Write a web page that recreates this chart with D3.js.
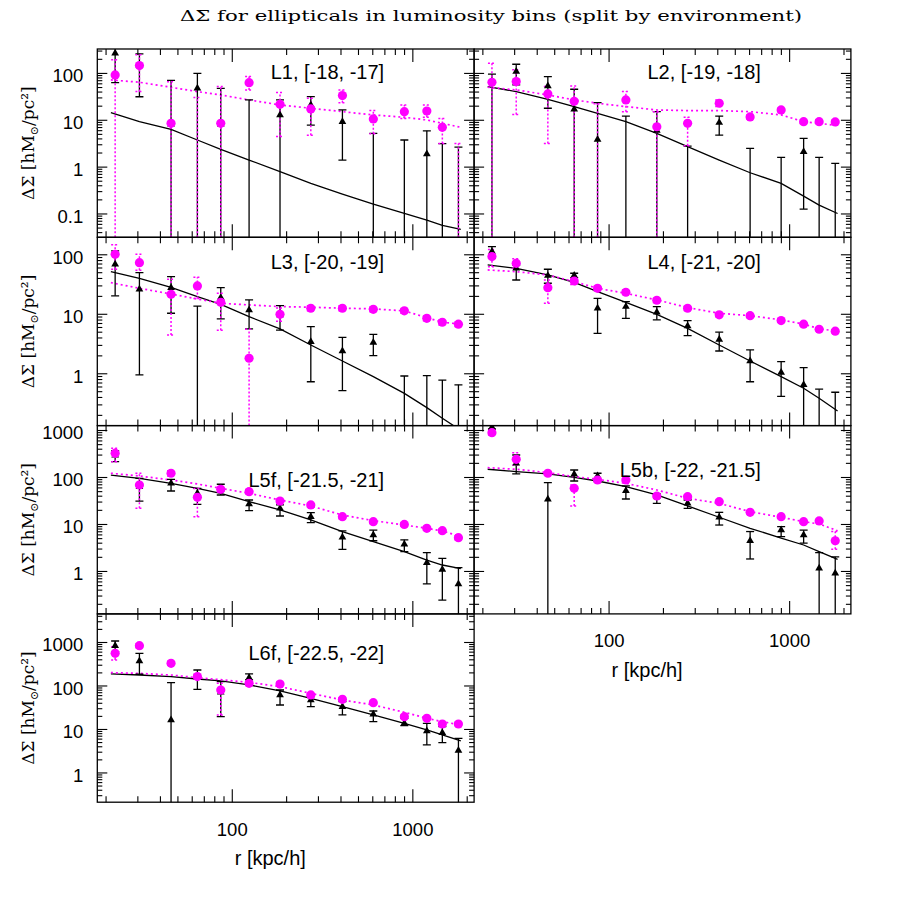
<!DOCTYPE html>
<html><head><meta charset="utf-8">
<script src="https://cdn.jsdelivr.net/npm/d3@7"></script>
<style>body{margin:0;background:#fff}</style>
</head><body>
<svg id="c" width="900" height="900"></svg>
<script>
// ---------- data ----------
const r = [22.6, 30.8, 46.1, 64.5, 86.9, 124.7, 185, 274, 410, 608, 903, 1203, 1466, 1800];
const rFit = [21.4, 30.8, 46.1, 64.5, 86.9, 124.7, 185, 274, 410, 608, 903, 1203, 1466, 1855];

// [value, lower, upper]  (value <= 0 : point off the log axis)
const L1_tri = [[263,62,600],[143,31,255],[8,-60,69],[47,-4,98],[8,-30,47],[-5,-36,26.5],[12.7,-1.1,26.5],[20.7,7.7,31.2],[9.1,1.38,16.2],[-2,-9,5.1],[-1,-6,3.7],[1.86,-2,5.8],[-1,-5,3.1],[-1,-5,2.6]];
const L1_circ = [[90.6,-10,190],[143.6,40,245],[8.4,-50,65],[-10,-50,30],[8.4,-35,51],[62,43.4,83.5],[21.4,4.4,38],[17,4.7,28.8],[32.8,23,43],[10.4,5,15.7],[14.9,10.7,20.7],[15.4,11.3,20.7],[6.9,3.1,10.7],[-1,-5,3.1]];
const L1_fit = [14.2,9.1,6.25,3.70,2.34,1.38,0.78,0.44,0.26,0.159,0.100,0.072,0.056,0.046];
const L1_fitC = [70.8,63.2,49.4,39.9,33.9,26.5,20.7,17.6,14.9,12.7,11.3,9.9,8.4,6.9];

const L2_tri = [[-10,-60,94],[107,55.5,153],[52.7,17.6,83.5],[16.7,-12,44.8],[3.8,-16,23.2],[-3,-18,12],[5.9,-3,14.9],[-2,-7,2.75],[8.7,4.7,12],[-1,-4.5,2.45],[-1,-4,1.58],[2.08,0.124,4.0],[-1,-4,1.58],[-1,-3.3,1.17]];
const L2_circ = [[63,-35,161],[65.3,13,117],[35.6,3.1,51],[24.8,-3,52.7],[-5,-32,22],[26.5,14.9,39.9],[7.1,-1,14.9],[8.4,2.8,11.3],[22.5,19.1,26.5],[11.5,10.4,12.7],[16.2,14.8,17.6],[9.1,8.3,10],[9.1,8.3,10],[9.0,8.2,9.8]];
const L2_fit = [51,39.9,27.4,19.1,13.7,9.1,5.1,2.67,1.38,0.74,0.44,0.235,0.151,0.100];
const L2_fitC = [49.4,43.4,33.9,26.5,22.5,19.1,16.2,15.7,15.7,14.9,12.7,9.1,8.4,7.5];

const L3_tri = [[68,20,114],[25.8,0.94,49.2],[27.5,10.2,42.1],[-3,-20,13.5],[18.7,8.2,27.5],[11.6,5.56,17.1],[9.5,5.3,13.7],[3.4,0.72,6.1],[2.37,0.51,4.0],[3.3,1.98,4.5],[-0.5,-2,0.9],[-0.5,-2,0.91],[-0.5,-2,0.77],[-0.5,-2,0.64]];
const L3_circ = [[100,56,144],[72.4,54,100],[21.3,4.4,38],[29.4,18,41],[15.6,5.3,22.1],[1.79,-1.9,5.5],[9.8,7.5,12.5],[12.4,11.2,13.6],[12.4,11.2,13.6],[11.9,10.8,13],[11.2,10.2,12.2],[8.4,7.6,9.2],[7.2,6.5,7.9],[6.7,6.1,7.3]];
const L3_fit = [51.1,39.5,27.9,19.4,14.4,8.96,5.56,2.99,1.61,0.88,0.46,0.265,0.175,0.11];
const L3_fitC = [33.4,26.8,21.5,17.7,15.0,14.1,13.2,12.9,12.4,12.1,11.2,8.6,7.2,6.7];

const L4_tri = [[111,86,135],[58.2,37,66],[43.8,32.6,56],[44,40.5,48],[12.4,4.7,18.2],[13.2,8.4,16],[10.6,7.9,13.2],[6.25,4.3,7.7],[3.7,2.37,4.9],[1.61,0.72,2.47],[1.03,0.41,1.57],[0.64,-0.1,1.24],[-0.2,-1,0.54],[-0.2,-1,0.48]];
const L4_circ = [[91.4,62,120],[70.6,58,84],[27.5,15,37],[35.6,31,40],[26.8,24.5,29],[23,21,25],[16.9,15.5,18.3],[12.4,11.4,13.4],[9.6,8.9,10.3],[9.3,8.7,9.9],[7.7,7.2,8.2],[6.7,6.3,7.1],[5.5,5.2,5.8],[5.1,4.8,5.4]];
const L4_fit = [66.2,58.2,45,33.8,23.6,15.6,9.8,5.7,2.99,1.61,0.88,0.56,0.38,0.233];
const L4_fitC = [54.5,51.1,45,34.7,26.8,22.1,17.1,12.7,10.2,9.3,7.9,6.7,5.6,5.1];

const L5f_tri = [[290,212,363],[62,30.8,93.7],[73.3,50.4,89],[44.9,26.2,57.4],[55,41.4,70],[26.6,19.2,32.4],[21.5,14.8,25.4],[14.3,10.7,17.4],[5.2,2.89,7.1],[5.8,4.4,7.4],[3.7,2.58,4.6],[1.5,0.53,2.45],[1.08,0.24,1.86],[0.53,-0.1,1.18]];
const L5f_circ = [[319,212,407],[67.6,21.5,120],[120,105,135],[36.9,14.3,57],[54.7,48,61],[48.7,44,54],[30.8,28,33.5],[25.4,23,27.5],[14.3,13,15.5],[11.2,10.2,12.2],[9.8,9,10.6],[8.1,7.4,8.8],[7.2,6.6,7.8],[5.1,4.6,5.6]];
const L5f_fit = [110,93.7,73.3,57.4,44.9,29.9,19.9,12.2,6.9,4.2,2.58,1.71,1.34,1.12];
const L5f_fitC = [120,105,86.3,71,57.4,44.9,32.4,24.2,15.5,11.8,9.5,8.1,7.1,5.4];

const L5b_tri = [[1150,1050,1250],[195,116,294],[33.5,-10,75.7],[114,82.2,141],[105,79.6,120],[51.2,34,64.4],[38.2,27.5,43.5],[27.5,21.5,32.4],[13.9,9.5,17.7],[4.4,1.8,6.9],[7.45,5.4,8.8],[5.8,3.9,7.4],[1.14,-0.2,2.45],[0.89,-0.2,2.0]];
const L5b_circ = [[877,780,980],[238,180,330],[120,110,130],[57.4,24.2,67.6],[86.3,80,93],[86.3,80,93],[39.4,36.5,42.5],[38.2,35.5,41],[29.9,27.8,32],[17.7,16.5,19],[14.3,13.3,15.3],[11.2,10.4,12],[11.6,10.8,12.4],[4.4,2.89,6.9]];
const L5b_fit = [146,130,116,98.4,82.2,62.3,41.4,24.2,13.9,8.1,5.0,3.57,2.58,1.77];
const L5b_fitC = [158,146,124,102,89,73.3,52.9,35.2,27.5,18.3,13.9,11.2,10,7.2];

const L6f_tri = [[824,600,1054],[366,181,549],[16.1,-80,116],[155,81.6,227],[70,19.2,122],[151,134,184],[60.5,35.6,78.8],[46.4,32.6,55.4],[32.6,21,42.5],[21.7,14.7,25.9],[13.5,11.9,17.6],[9.0,4.3,13.5],[8.2,4.85,11.3],[3.2,-0.5,6.1]];
const L6f_circ = [[549,385,781],[824,740,910],[323,290,360],[160,140,180],[78.8,21,112],[112,100,124],[108,98,118],[60.5,55,66],[48.1,44,52],[40.3,37,43.5],[19.2,17.5,21],[17.6,16,19.2],[13,11.8,14.2],[13,11.8,14.2]];
const L6f_fit = [184,174,160,141,127,103,74.8,50.7,32.6,21,13.5,9.5,7.3,5.3];
const L6f_fitC = [197,190,174,151,136,118,94,66,46.4,35.6,24.2,17.6,14.7,12.4];

const panelNames = ["L1, [-18, -17]","L2, [-19, -18]","L3, [-20, -19]","L4, [-21, -20]","L5f, [-21.5, -21]","L5b, [-22, -21.5]","L6f, [-22.5, -22]"];
const xRange = [18, 2198];
const yRanges = [[0.031, 324], [0.132, 193], [0.122, 1241], [0.207, 4426]];
const yTickLabels = [[0.1, 1, 10, 100], [1, 10, 100], [1, 10, 100, 1000], [1, 10, 100, 1000]];
const xTickLabels = [100, 1000];
const titleText = "ΔΣ for ellipticals in luminosity bins (split by environment)";

// ---------- layout ----------
const ROW_TOP = [49, 237.3, 425.6, 613.9], COL_LEFT = [97.3, 474.1], PW = 376.8, PH = 188.3;
const panels = [
  {tri:L1_tri, circ:L1_circ, fit:L1_fit, fitC:L1_fitC, row:0, col:0, labTop:23, xlab:false},
  {tri:L2_tri, circ:L2_circ, fit:L2_fit, fitC:L2_fitC, row:0, col:1, labTop:23, xlab:false},
  {tri:L3_tri, circ:L3_circ, fit:L3_fit, fitC:L3_fitC, row:1, col:0, labTop:25, xlab:false},
  {tri:L4_tri, circ:L4_circ, fit:L4_fit, fitC:L4_fitC, row:1, col:1, labTop:25, xlab:false},
  {tri:L5f_tri, circ:L5f_circ, fit:L5f_fit, fitC:L5f_fitC, row:2, col:0, labTop:54, xlab:false},
  {tri:L5b_tri, circ:L5b_circ, fit:L5b_fit, fitC:L5b_fitC, row:2, col:1, labTop:44, xlab:true},
  {tri:L6f_tri, circ:L6f_circ, fit:L6f_fit, fitC:L6f_fitC, row:3, col:0, labTop:39, xlab:true}
];
const MAG = "#ff00ff";
const SANS = "'Liberation Sans', Arial, Helvetica, sans-serif";
const SERIF = "'DejaVu Serif', 'Liberation Serif', serif";

const svg = d3.select("#c");
const defs = svg.append("defs");

function majors(lo, hi){ const o=[]; for(let k=-3;k<=5;k++){const v=Math.pow(10,k); if(v>=lo*0.999&&v<=hi*1.001) o.push(v);} return o; }
function minors(lo, hi){ const o=[]; for(let k=-3;k<=5;k++) for(let m=2;m<=9;m++){const v=m*Math.pow(10,k); if(v>lo&&v<hi) o.push(v);} return o; }

const x = d3.scaleLog().domain(xRange).range([0, PW]);

panels.forEach((p, i) => {
  const g = svg.append("g").attr("transform", `translate(${COL_LEFT[p.col]},${ROW_TOP[p.row]})`);
  const yr = yRanges[p.row];
  const y = d3.scaleLog().domain(yr).range([PH, 0]);
  const yv = v => v > 0 ? y(v) : PH + 60;

  defs.append("clipPath").attr("id", "cl" + i).append("rect").attr("width", PW).attr("height", PH);
  const plot = g.append("g").attr("clip-path", `url(#cl${i})`);

  const line = d3.line().x(d => x(d[0])).y(d => yv(d[1]));
  plot.append("path").datum(d3.zip(rFit, p.fit)).attr("d", line)
    .attr("fill", "none").attr("stroke", "#000").attr("stroke-width", 1.3);
  plot.append("path").datum(d3.zip(rFit, p.fitC)).attr("d", line)
    .attr("fill", "none").attr("stroke", MAG).attr("stroke-width", 1.7).attr("stroke-dasharray", "2,3");

  function bars(data, color, dash, width){
    const gg = plot.append("g").attr("stroke", color).attr("stroke-width", width).attr("fill", "none");
    if (dash) gg.attr("stroke-dasharray", dash);
    const d = d3.zip(r, data);
    gg.selectAll(".v").data(d).join("line")
      .attr("x1", e => x(e[0])).attr("x2", e => x(e[0]))
      .attr("y1", e => yv(e[1][1])).attr("y2", e => yv(e[1][2]));
    gg.selectAll(".h").data(d).join("line")
      .attr("x1", e => x(e[0]) - 4).attr("x2", e => x(e[0]) + 4)
      .attr("y1", e => yv(e[1][2])).attr("y2", e => yv(e[1][2]));
    gg.selectAll(".l").data(d).join("line")
      .attr("x1", e => x(e[0]) - 4).attr("x2", e => x(e[0]) + 4)
      .attr("y1", e => yv(e[1][1])).attr("y2", e => yv(e[1][1]));
  }
  bars(p.tri, "#000", null, 1.3);
  bars(p.circ, MAG, "2,2", 1.5);

  const tri = d3.symbol().type(d3.symbolTriangle).size(26);
  plot.append("g").selectAll("path").data(d3.zip(r, p.tri).filter(e => e[1][0] > 0)).join("path")
    .attr("d", tri).attr("transform", e => `translate(${x(e[0])},${y(e[1][0])})`).attr("fill", "#000");
  plot.append("g").selectAll("circle").data(d3.zip(r, p.circ).filter(e => e[1][0] > 0)).join("circle")
    .attr("cx", e => x(e[0])).attr("cy", e => y(e[1][0])).attr("r", 4.6).attr("fill", MAG);

  // axes (inward ticks)
  const clean = s => s.select(".domain").remove();
  const xMaj = majors(xRange[0], xRange[1]), xMin = minors(xRange[0], xRange[1]);
  const yMaj = majors(yr[0], yr[1]), yMin = minors(yr[0], yr[1]);
  const style = s => { s.selectAll("line").attr("stroke", "#000").attr("stroke-width", 1.1);
                       s.selectAll("text").attr("font-family", SANS).attr("font-size", 18.5).attr("fill", "#000"); };

  g.append("g").attr("transform", `translate(0,${PH})`).call(d3.axisBottom(x).tickValues(xMaj).tickSize(-13).tickPadding(p.col === 0 ? 21 : 19.5)
      .tickFormat(p.xlab ? (d => String(d)) : () => "")).call(clean).call(style);
  g.append("g").attr("transform", `translate(0,${PH})`).call(d3.axisBottom(x).tickValues(xMin).tickSize(-6).tickFormat(() => "")).call(clean).call(style);
  g.append("g").call(d3.axisTop(x).tickValues(xMaj).tickSize(-13).tickFormat(() => "")).call(clean).call(style);
  g.append("g").call(d3.axisTop(x).tickValues(xMin).tickSize(-6).tickFormat(() => "")).call(clean).call(style);

  const labs = yTickLabels[p.row];
  g.append("g").call(d3.axisLeft(y).tickValues(yMaj).tickSize(-10).tickPadding(14)
      .tickFormat(p.col === 0 ? (d => labs.includes(d) ? String(d) : "") : () => "")).call(clean).call(style)
    .selectAll("text").attr("dy", "0.48em");
  g.append("g").call(d3.axisLeft(y).tickValues(yMin).tickSize(-5).tickFormat(() => "")).call(clean).call(style);
  g.append("g").attr("transform", `translate(${PW},0)`).call(d3.axisRight(y).tickValues(yMaj).tickSize(-10).tickFormat(() => "")).call(clean).call(style);
  g.append("g").attr("transform", `translate(${PW},0)`).call(d3.axisRight(y).tickValues(yMin).tickSize(-5).tickFormat(() => "")).call(clean).call(style);

  g.append("rect").attr("width", PW).attr("height", PH).attr("fill", "none").attr("stroke", "#000").attr("stroke-width", 1.3);

  g.append("text").attr("x", PW - 90).attr("y", p.labTop + 7).attr("text-anchor", "end")
    .attr("font-family", SANS).attr("font-size", 20).attr("fill", "#000").text(panelNames[i]);

  if (p.xlab) {
    g.append("text").attr("x", 173).attr("y", PH + 63).attr("text-anchor", "middle")
      .attr("font-family", SANS).attr("font-size", 20).attr("fill", "#000").text("r [kpc/h]");
  }
});

// y-axis titles
ROW_TOP.forEach(t => {
  const tx = svg.append("text").attr("transform", `translate(34,${t + PH / 2}) rotate(-90)`)
    .attr("text-anchor", "middle").attr("font-family", SERIF).attr("font-size", 17).attr("fill", "#000");
  tx.append("tspan").text("ΔΣ  [hM");
  tx.append("tspan").attr("dy", 4).attr("font-size", 11).text("⊙");
  tx.append("tspan").attr("dy", -4).text("/pc²]");
});

svg.append("text").attr("x", 180).attr("y", 21).attr("font-family", SERIF).attr("font-size", 15.5)
  .attr("textLength", 622).attr("lengthAdjust", "spacingAndGlyphs").attr("fill", "#000").text(titleText);
</script>
</body></html>
